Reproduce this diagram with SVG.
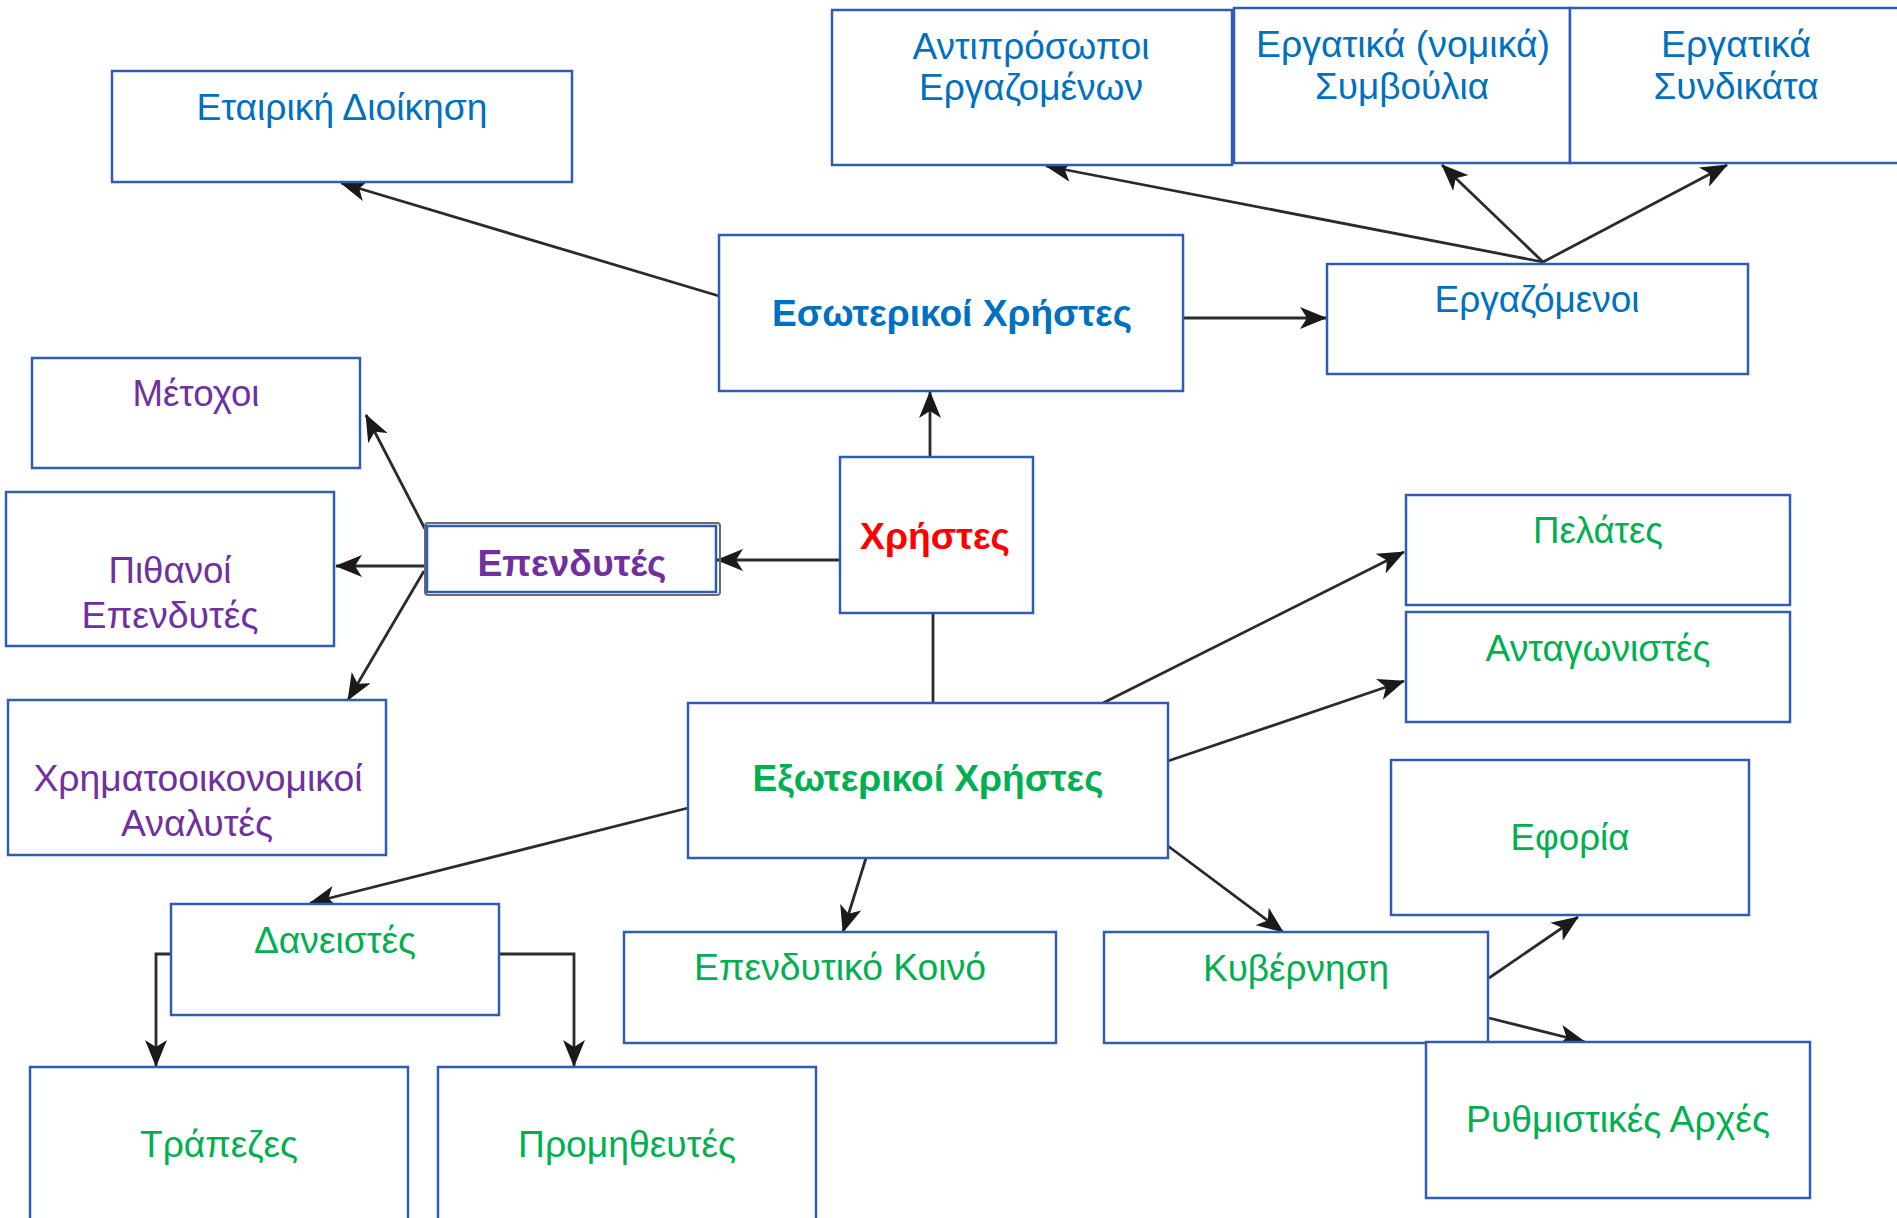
<svg xmlns="http://www.w3.org/2000/svg" width="1897" height="1218" viewBox="0 0 1897 1218">
<style>
.box{fill:#fff;stroke:#2F5DB3;stroke-width:2.5}
text{font-family:"Liberation Sans",Arial,"Noto Sans",sans-serif;font-size:36px;text-anchor:middle}
.blue{fill:#0070C0}
.purple{fill:#7030A0}
.green{fill:#00B050}
.red{fill:#FF0000}
.b{font-weight:bold}
.con{fill:none;stroke:#2b2b2b;stroke-width:2.8}
.arr{marker-end:url(#ah)}
</style>
<defs>
<marker id="ah" markerUnits="userSpaceOnUse" markerWidth="28" markerHeight="22" refX="26" refY="11" orient="auto" viewBox="0 0 28 22">
<path d="M0,0 L27,11 L0,22 L7,11 z" fill="#1a1a1a"/>
</marker>
</defs>
<rect width="1897" height="1218" fill="#fff"/>

<g id="connectors">
<path class="con arr" d="M719,296 L341,183"/>
<path class="con arr" d="M1183,318 L1326,318"/>
<path class="con arr" d="M1543,262 L1046,166"/>
<path class="con arr" d="M1543,262 L1442,165"/>
<path class="con arr" d="M1543,262 L1727,165"/>
<path class="con arr" d="M930,457 L930,392"/>
<path class="con arr" d="M840,560 L717,560"/>
<path class="con arr" d="M425,529 L366,415"/>
<path class="con arr" d="M425,566 L336,566"/>
<path class="con arr" d="M424,571 L348,700"/>
<path class="con" d="M933,613 L933,703"/>
<path class="con arr" d="M1103,703 L1404,552"/>
<path class="con arr" d="M1168,761 L1404,681"/>
<path class="con arr" d="M1168,846 L1283,932"/>
<path class="con arr" d="M866,858 L843,932"/>
<path class="con arr" d="M688,808 L310,903"/>
<path class="con arr" d="M171,954 L156,954 L156,1066"/>
<path class="con arr" d="M499,954 L574,954 L574,1066"/>
<path class="con arr" d="M1489,978 L1578,917"/>
<path class="con arr" d="M1489,1018 L1585,1042"/>
</g>

<g id="n-etairiki">
<rect class="box" x="112" y="71" width="460" height="111"/>
<text class="blue" x="342" y="120" textLength="291" lengthAdjust="spacingAndGlyphs">Εταιρική Διοίκηση</text>
</g>
<g id="n-antiprosopoi">
<rect class="box" x="832" y="10" width="400" height="155"/>
<text class="blue" x="1031" y="59" textLength="237" lengthAdjust="spacingAndGlyphs">Αντιπρόσωποι</text>
<text class="blue" x="1031" y="100" textLength="224" lengthAdjust="spacingAndGlyphs">Εργαζομένων</text>
</g>
<g id="n-symvoulia">
<rect class="box" x="1234" y="8" width="336" height="155"/>
<text class="blue" x="1403" y="57" textLength="294" lengthAdjust="spacingAndGlyphs">Εργατικά (νομικά)</text>
<text class="blue" x="1402" y="99" textLength="174" lengthAdjust="spacingAndGlyphs">Συμβούλια</text>
</g>
<g id="n-syndikata">
<rect class="box" x="1570" y="8" width="345" height="155"/>
<text class="blue" x="1736" y="57" textLength="150" lengthAdjust="spacingAndGlyphs">Εργατικά</text>
<text class="blue" x="1736" y="99" textLength="165" lengthAdjust="spacingAndGlyphs">Συνδικάτα</text>
</g>
<g id="n-esoterikoi">
<rect class="box" x="719" y="235" width="464" height="156"/>
<text class="blue b" x="952" y="326" textLength="360" lengthAdjust="spacingAndGlyphs">Εσωτερικοί Χρήστες</text>
</g>
<g id="n-ergazomenoi">
<rect class="box" x="1327" y="264" width="421" height="110"/>
<text class="blue" x="1537" y="312" textLength="205" lengthAdjust="spacingAndGlyphs">Εργαζόμενοι</text>
</g>
<g id="n-metochoi">
<rect class="box" x="32" y="358" width="328" height="110"/>
<text class="purple" x="196" y="406" textLength="127" lengthAdjust="spacingAndGlyphs">Μέτοχοι</text>
</g>
<g id="n-pithanoi">
<rect class="box" x="6" y="492" width="328" height="154"/>
<text class="purple" x="170" y="583" textLength="123" lengthAdjust="spacingAndGlyphs">Πιθανοί</text>
<text class="purple" x="170" y="628" textLength="177" lengthAdjust="spacingAndGlyphs">Επενδυτές</text>
</g>
<g id="n-ependytes">
<rect x="425" y="523" width="295" height="72" rx="3" fill="none" stroke="#6a6a6a" stroke-width="2"/>
<rect class="box" x="427" y="526" width="289" height="66"/>
<text class="purple b" x="572" y="576" textLength="189" lengthAdjust="spacingAndGlyphs">Επενδυτές</text>
</g>
<g id="n-xristes">
<rect class="box" x="840" y="457" width="193" height="156"/>
<text class="red b" x="935" y="549" textLength="150" lengthAdjust="spacingAndGlyphs">Χρήστες</text>
</g>
<g id="n-analytes">
<rect class="box" x="8" y="700" width="378" height="155"/>
<text class="purple" x="198" y="791" textLength="329" lengthAdjust="spacingAndGlyphs">Χρηματοοικονομικοί</text>
<text class="purple" x="197" y="836" textLength="152" lengthAdjust="spacingAndGlyphs">Αναλυτές</text>
</g>
<g id="n-exoterikoi">
<rect class="box" x="688" y="703" width="480" height="155"/>
<text class="green b" x="928" y="791" textLength="351" lengthAdjust="spacingAndGlyphs">Εξωτερικοί Χρήστες</text>
</g>
<g id="n-pelates">
<rect class="box" x="1406" y="495" width="384" height="110"/>
<text class="green" x="1598" y="543" textLength="130" lengthAdjust="spacingAndGlyphs">Πελάτες</text>
</g>
<g id="n-antagonistes">
<rect class="box" x="1406" y="612" width="384" height="110"/>
<text class="green" x="1598" y="661" textLength="225" lengthAdjust="spacingAndGlyphs">Ανταγωνιστές</text>
</g>
<g id="n-eforia">
<rect class="box" x="1391" y="760" width="358" height="155"/>
<text class="green" x="1570" y="850" textLength="119" lengthAdjust="spacingAndGlyphs">Εφορία</text>
</g>
<g id="n-daneistes">
<rect class="box" x="171" y="904" width="328" height="111"/>
<text class="green" x="335" y="953" textLength="162" lengthAdjust="spacingAndGlyphs">Δανειστές</text>
</g>
<g id="n-koino">
<rect class="box" x="624" y="932" width="432" height="111"/>
<text class="green" x="840" y="980" textLength="292" lengthAdjust="spacingAndGlyphs">Επενδυτικό Κοινό</text>
</g>
<g id="n-kyvernisi">
<rect class="box" x="1104" y="932" width="384" height="111"/>
<text class="green" x="1296" y="981" textLength="186" lengthAdjust="spacingAndGlyphs">Κυβέρνηση</text>
</g>
<g id="n-trapezes">
<rect class="box" x="30" y="1067" width="378" height="170"/>
<text class="green" x="219" y="1157" textLength="158" lengthAdjust="spacingAndGlyphs">Τράπεζες</text>
</g>
<g id="n-promitheftes">
<rect class="box" x="438" y="1067" width="378" height="170"/>
<text class="green" x="627" y="1157" textLength="218" lengthAdjust="spacingAndGlyphs">Προμηθευτές</text>
</g>
<g id="n-rythmistikes">
<rect class="box" x="1426" y="1042" width="384" height="156"/>
<text class="green" x="1618" y="1132" textLength="304" lengthAdjust="spacingAndGlyphs">Ρυθμιστικές Αρχές</text>
</g>
</svg>
